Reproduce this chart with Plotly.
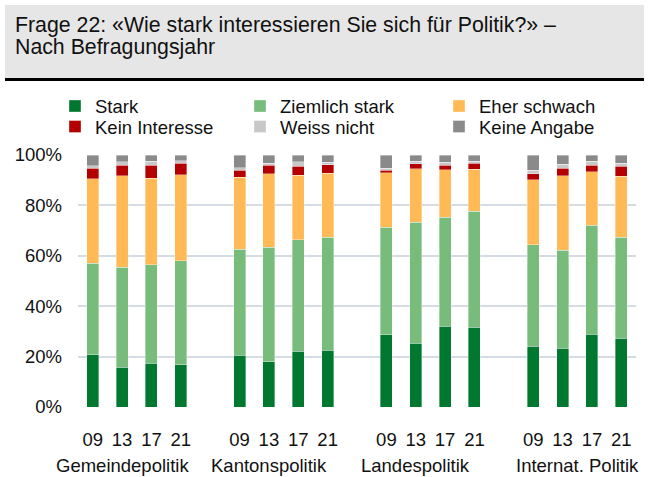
import plotly.graph_objects as go

# ---------------- data ----------------
groups = ["Gemeindepolitik", "Kantonspolitik", "Landespolitik", "Internat. Politik"]
years = ["09", "13", "17", "21"]

series_names = ["Stark", "Ziemlich stark", "Eher schwach", "Kein Interesse", "Weiss nicht", "Keine Angabe"]
stark    = [20.8, 15.7, 17.3, 16.8, 20.5, 17.9, 22.1, 22.5, 28.7, 25.3, 32.0, 31.6, 24.1, 23.4, 28.8, 27.2]
ziemlich = [36.2, 39.7, 39.2, 41.3, 42.1, 45.5, 44.3, 44.8, 42.6, 48.0, 43.3, 46.0, 40.3, 38.8, 43.4, 40.1]
eher     = [33.5, 36.3, 34.2, 34.0, 28.5, 29.2, 25.5, 25.4, 21.7, 21.3, 18.9, 16.7, 25.8, 29.5, 21.1, 24.2]
kein     = [4.2, 4.2, 5.2, 4.6, 2.9, 3.3, 3.7, 3.5, 0.9, 2.0, 1.7, 2.4, 2.3, 3.0, 2.7, 4.0]
weiss    = [1.1, 1.5, 1.7, 1.1, 1.0, 0.9, 1.8, 0.9, 0.9, 1.0, 1.2, 0.8, 1.4, 1.6, 1.5, 1.3]
keine    = [4.2, 2.6, 2.4, 2.2, 5.0, 3.2, 2.6, 2.9, 5.2, 2.4, 2.9, 2.5, 6.1, 3.7, 2.5, 3.2]

y_tickvals = [0, 20, 40, 60, 80, 100]
y_ticktext = ["0%", "20%", "40%", "60%", "80%", "100%"]

title_line1 = "Frage 22: «Wie stark interessieren Sie sich für Politik?» –"
title_line2 = "Nach Befragungsjahr"

# ---------------- layout constants ----------------
W, H = 648, 477
ML, MR, MT, MB = 78, 12, 155, 70
PW = W - ML - MR
PH = H - MT - MB
FONT = "Liberation Sans, Arial, sans-serif"
colors = ["#00782f", "#78bc7c", "#ffb955", "#b40000", "#c8c8c8", "#8a8a8a"]

def xp(px):
    return (px - ML) / PW

def yp(py):
    return (H - MB - py) / PH

# x positions: 4 bars per group, one blank slot between groups
gap = 1
positions = [g * (len(years) + gap) + i for g in range(len(groups)) for i in range(len(years))]
ticktext = [y for _ in groups for y in years]

values = [stark, ziemlich, eher, kein, weiss, keine]

# legend placement (text left x, row centre y) in pixels
leg_text_x = [95, 280, 479]
leg_row_y = [106.5, 127]

fig = go.Figure()
legend_layouts = {}
for k, (name, vals, col) in enumerate(zip(series_names, values, colors)):
    lname = "legend" if k == 0 else f"legend{k+1}"
    fig.add_trace(go.Bar(
        x=positions, y=vals, name=name, width=0.41,
        marker=dict(color=col, line=dict(color="rgba(255,255,255,0.6)", width=0.6)),
        legend=lname,
    ))
    r, c = divmod(k, 3)
    legend_layouts[lname] = dict(
        x=xp(leg_text_x[c] - 40), xanchor="left",
        y=yp(leg_row_y[r]), yanchor="middle",
        bgcolor="rgba(0,0,0,0)", borderwidth=0,
        font=dict(family=FONT, size=18.5, color="#111111"),
        orientation="v",
    )

fig.update_layout(
    barmode="stack",
    width=W, height=H,
    margin=dict(l=ML, r=MR, t=MT, b=MB),
    paper_bgcolor="white", plot_bgcolor="white",
    font=dict(family=FONT, size=18.5, color="#111111"),
    showlegend=True,
    **legend_layouts,
    xaxis=dict(
        range=[-0.5, positions[-1] + 0.5],
        tickvals=positions, ticktext=ticktext,
        showgrid=False, zeroline=False, showline=False, ticks="",
        tickfont=dict(family=FONT, size=18.5, color="#111111"),
        ticklabelstandoff=19,
    ),
    yaxis=dict(
        range=[0, 100],
        tickvals=y_tickvals, ticktext=y_ticktext,
        showgrid=True, gridcolor="#d5dce4", gridwidth=1.5,
        zeroline=False, showline=False, ticks="",
        tickfont=dict(family=FONT, size=18.5, color="#111111"),
        ticklabelstandoff=15,
    ),
)

# title box
fig.add_shape(type="rect", xref="paper", yref="paper",
              x0=xp(5), x1=xp(644), y0=yp(78), y1=yp(5),
              fillcolor="#e6e6e6", line=dict(width=0), layer="below")
fig.add_shape(type="line", xref="paper", yref="paper",
              x0=xp(5), x1=xp(644), y0=yp(79.5), y1=yp(79.5),
              line=dict(color="black", width=3))
fig.add_annotation(text=title_line1, xref="paper", yref="paper",
                   x=xp(13), y=yp(25), xanchor="left", yanchor="middle",
                   showarrow=False, font=dict(family=FONT, size=21.3, color="#111111"))
fig.add_annotation(text=title_line2, xref="paper", yref="paper",
                   x=xp(13), y=yp(47), xanchor="left", yanchor="middle",
                   showarrow=False, font=dict(family=FONT, size=21.3, color="#111111"))

# group labels below the year ticks
group_label_pos = [1, 6, 11, 16.5]
for g, lab in enumerate(groups):
    fig.add_annotation(text=lab, xref="x", yref="paper",
                       x=group_label_pos[g], y=yp(465), xanchor="center", yanchor="middle",
                       showarrow=False, font=dict(family=FONT, size=18.5, color="#111111"))

fig.write_html("out.html", config={"displayModeBar": False},
               post_script="document.body.style.margin='0';")
